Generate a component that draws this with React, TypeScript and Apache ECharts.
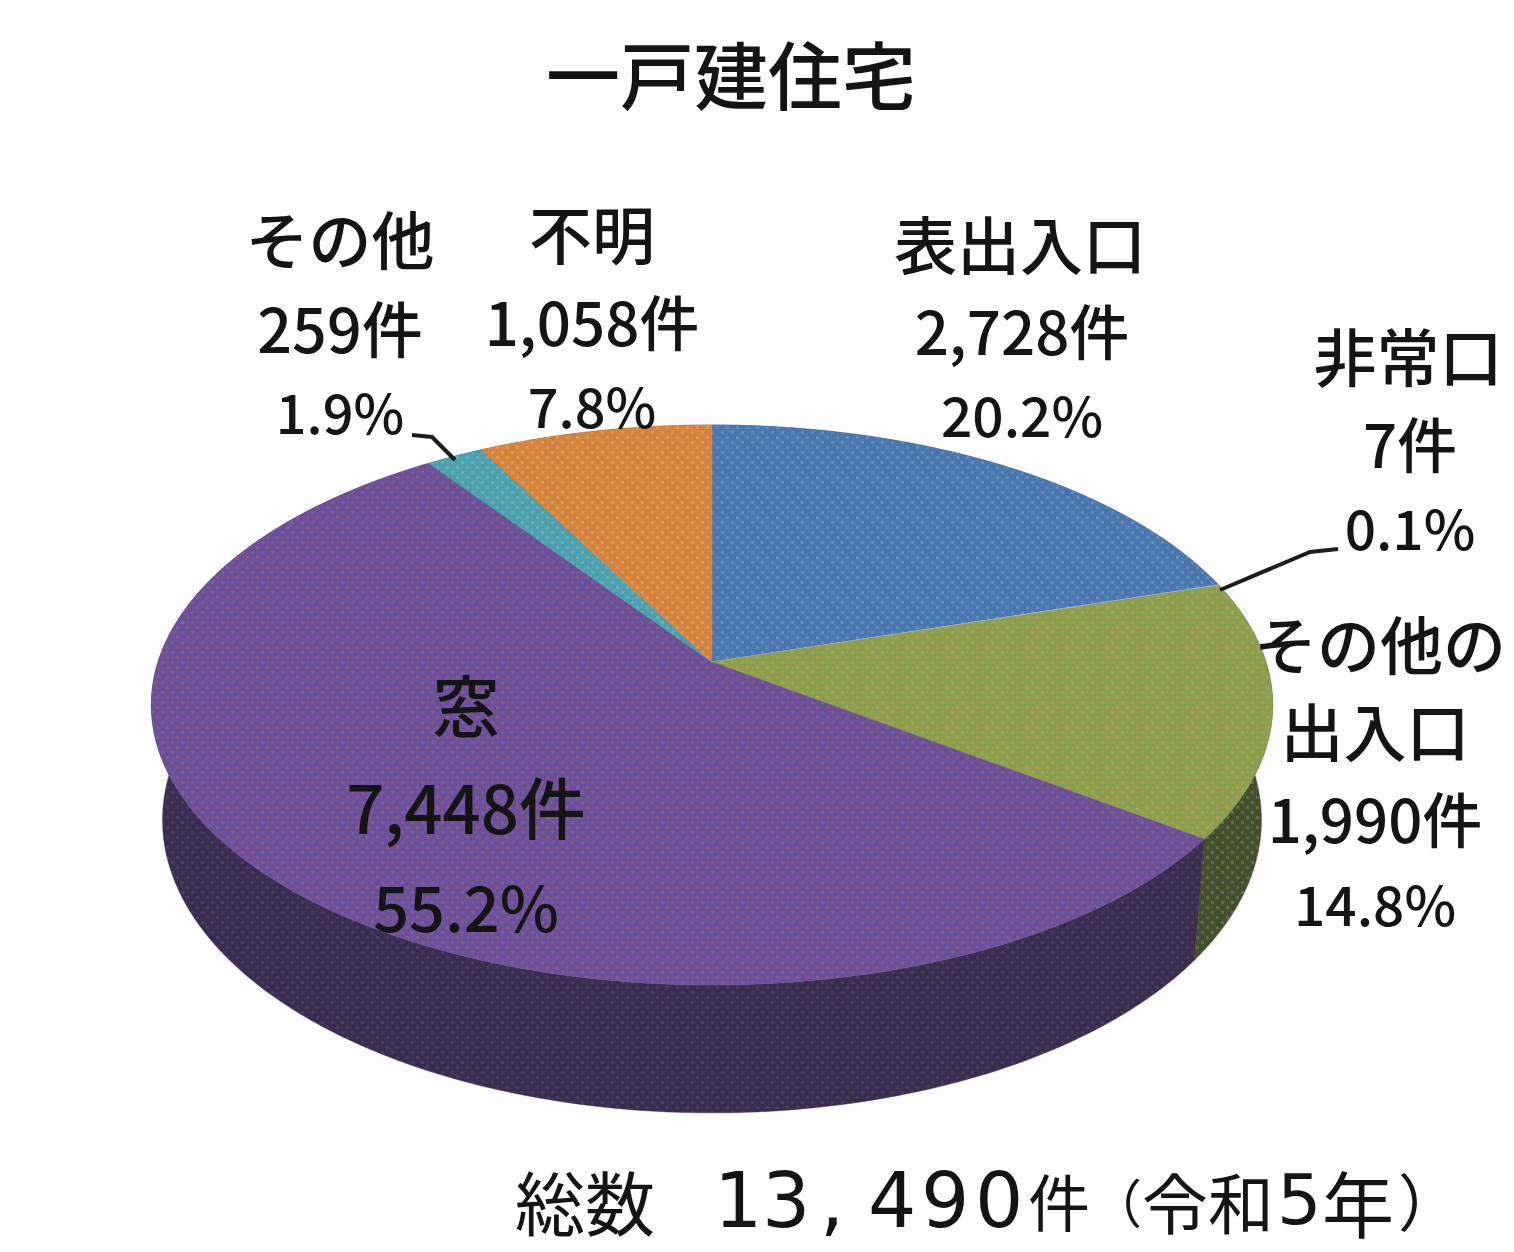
import React, { useEffect, useRef } from "react";
import * as echarts from "echarts";

const sliceNames = ["表出入口", "非常口", "その他の出入口", "窓", "その他", "不明"];
const sliceValues = [2728, 7, 1990, 7448, 259, 1058];
const topColors = ["#4b76b0", "#b0c4de", "#8aa04e", "#6a5199", "#4d9fae", "#d4843f"];
const topDots = ["#5a90bc", "#b0c4de", "#a8a050", "#85588e", "#5fb0b8", "#e09a50"];
const wallColors = ["#2e4a70", "#5a6a80", "#434f2e", "#3b2d50", "#2d6070", "#8a5428"];
const wallDots = ["#3e5a80", "#5a6a80", "#5a7040", "#4a3a5e", "#3d7080", "#9a6438"];

const FONT = '"Noto Sans CJK JP", sans-serif';
const labelLines: [string, number, number, number][] = [
  ["その他", 340, 236, 63], ["259件", 340, 326, 61], ["1.9%", 340, 410, 54],
  ["不明", 592, 231, 63], ["1,058件", 592, 319, 60], ["7.8%", 592, 404, 54],
  ["表出入口", 1020, 241, 63], ["2,728件", 1022, 328, 60], ["20.2%", 1022, 413, 55],
  ["非常口", 1408, 353, 63], ["7件", 1410, 441, 60], ["0.1%", 1410, 526, 55],
  ["その他の", 1380, 641, 63], ["出入口", 1375, 728, 63], ["1,990件", 1375, 816, 60], ["14.8%", 1375, 902, 55],
  ["窓", 466, 702, 67], ["7,448件", 466, 804, 67], ["55.2%", 466, 904, 63],
];
const totalPieces: [string, number, string, number][] = [
  ["総数", 515, FONT, 70], ["1", 714, '"DejaVu Sans"', 76], ["3", 762, '"DejaVu Sans"', 76],
  [",", 820, '"DejaVu Sans"', 76], ["4", 868, '"DejaVu Sans"', 76], ["9", 921, '"DejaVu Sans"', 76],
  ["0", 975, '"DejaVu Sans"', 76], ["件", 1028, FONT, 62], ["（", 1090, FONT, 52],
  ["令和", 1142, FONT, 66], ["5", 1277, '"DejaVu Sans"', 70], ["年", 1322, FONT, 72], ["）", 1398, FONT, 62],
];

const APEX_X = 712, APEX_Y = 662, W = 554, H = 273.4, K = 0.1536;
const BOTTOM_Y = 775, BOTTOM_SX = 0.98, BOTTOM_SY = 1.046;
const total = sliceValues.reduce((a, b) => a + b, 0);

function topPoint(t: number): number[] {
  const u = Math.sin(t), v = Math.cos(t), d = 1 + K * v;
  return [APEX_X + (W * u) / d, APEX_Y - (H * v) / d];
}
function bottomPoint(t: number): number[] {
  const u = Math.sin(t), v = Math.cos(t), d = 1 + K * v;
  return [APEX_X + (BOTTOM_SX * W * u) / d, BOTTOM_Y - (BOTTOM_SY * H * v) / d];
}
function angleRange(i: number): [number, number] {
  const before = sliceValues.slice(0, i).reduce((a, b) => a + b, 0);
  return [(before / total) * 2 * Math.PI, ((before + sliceValues[i]) / total) * 2 * Math.PI];
}
function arc(a: number, b: number, fn: (t: number) => number[]): number[][] {
  const n = Math.max(2, Math.ceil(((b - a) / (2 * Math.PI)) * 360));
  const pts: number[][] = [];
  for (let j = 0; j <= n; j++) pts.push(fn(a + ((b - a) * j) / n));
  return pts;
}
function grain(base: string, dot: string): any {
  const c = document.createElement("canvas");
  c.width = 10;
  c.height = 10;
  const g = c.getContext("2d")!;
  g.fillStyle = base;
  g.fillRect(0, 0, 10, 10);
  g.fillStyle = dot;
  g.fillRect(1, 1, 3, 3);
  g.fillRect(6, 6, 3, 3);
  return { image: c.toDataURL(), repeat: "repeat", imageWidth: 10, imageHeight: 10 };
}

export default function App() {
  const ref = useRef<HTMLDivElement>(null);
  useEffect(() => {
    document.body.style.margin = "0";
    const chart = echarts.init(ref.current!, undefined, { renderer: "svg" });
    const base = { fontFamily: FONT, fontWeight: 500, fill: "#141414", verticalAlign: "middle" };
    const texts: any[] = labelLines.map(([text, x, y, size]) => ({
      type: "text", x, y, z: 100,
      style: { ...base, text, fontSize: size, align: "center" },
    }));
    totalPieces.forEach(([text, x, font, size]) =>
      texts.push({
        type: "text", x, y: 1200, z: 100,
        style: { ...base, text, fontFamily: font, fontWeight: 400, fontSize: size, align: "left" },
      })
    );
    texts.push({
      type: "text", x: 731, y: 71, z: 100,
      style: { ...base, text: "一戸建住宅", fontSize: 74, align: "center" },
    });
    const leaders = [
      [[1338, 549], [1310, 552], [1220, 590]],
      [[412, 435], [432, 437], [455, 460]],
    ].map((points) => ({
      type: "polyline", z: 100,
      shape: { points },
      style: { stroke: "#1c1c1c", lineWidth: 4, fill: "none" },
    }));
    const tops = topColors.map((c, i) => grain(c, topDots[i]));
    const walls = wallColors.map((c, i) => grain(c, wallDots[i]));
    chart.setOption({
      animation: false,
      backgroundColor: "#fff",
      graphic: { elements: [...leaders, ...texts] },
      series: [
        {
          type: "custom", coordinateSystem: "none", silent: true, z: 1, clip: false,
          data: sliceValues,
          renderItem: (p: any) => {
            const [a, b] = angleRange(p.dataIndex);
            const pts = [...arc(a, b, topPoint), ...arc(a, b, bottomPoint).reverse()];
            return {
              type: "polygon",
              shape: { points: pts },
              style: { fill: walls[p.dataIndex], stroke: wallColors[p.dataIndex], lineWidth: 0.5 },
            };
          },
        },
        {
          type: "custom", coordinateSystem: "none", silent: true, z: 2, clip: false,
          name: "一戸建住宅",
          data: sliceNames.map((name, i) => ({ name, value: sliceValues[i] })),
          renderItem: (p: any) => {
            const [a, b] = angleRange(p.dataIndex);
            const pts = [[APEX_X, APEX_Y], ...arc(a, b, topPoint)];
            return {
              type: "polygon",
              shape: { points: pts },
              style: { fill: tops[p.dataIndex], stroke: topColors[p.dataIndex], lineWidth: 0.5 },
            };
          },
        },
      ],
    });
    return () => chart.dispose();
  }, []);
  return <div ref={ref} style={{ position: "absolute", left: 0, top: 0, width: 1514, height: 1252 }} />;
}
